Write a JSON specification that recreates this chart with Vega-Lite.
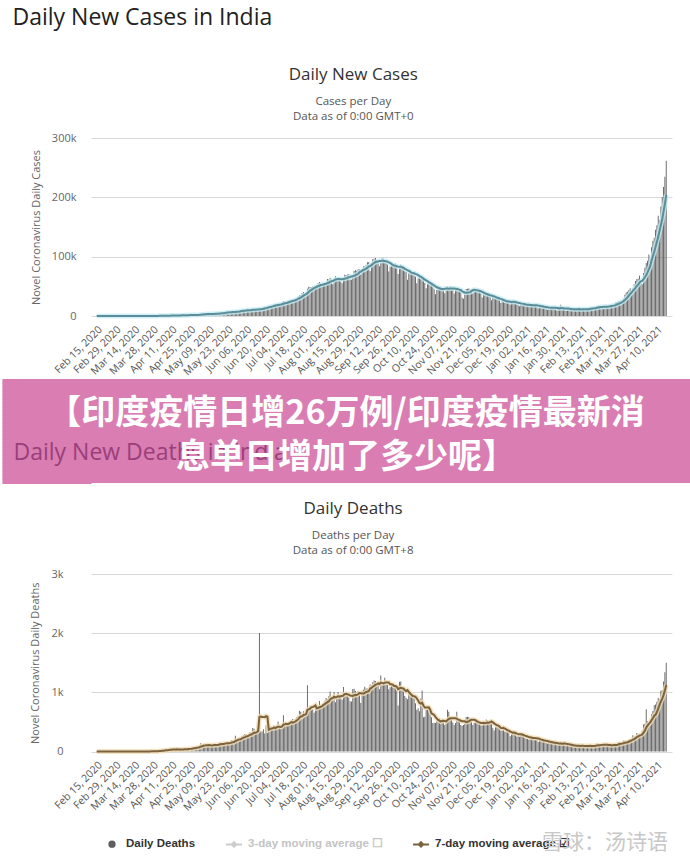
{
"$schema":"https://vega.github.io/schema/vega-lite/v6.json",
"background":"white",
"padding":{"top":6,"left":0,"right":0,"bottom":0},
"spacing":0,
"resolve":{"scale":{"color":"independent"},"legend":{"color":"independent"}},
"title":{"text":"Daily New Cases in India","anchor":"start","dx":12,"fontSize":23,"font":"Open Sans","fontWeight":"normal","color":"#222222","offset":36},
"config":{"view":{"stroke":null},"axis":{"labelFont":"Open Sans","titleFont":"Open Sans"}},
"datasets":{
"banner":[{"line":"q","t":"【印度疫情日增26万例/印度疫情最新消"},{"line":"M","t":"息单日增加了多少呢】"}],
"covid":[
{"d":"2020-02-15","c":0,"k":0},{"d":"2020-02-16","c":0,"k":0},{"d":"2020-02-17","c":0,"k":0},{"d":"2020-02-18","c":0,"k":0},{"d":"2020-02-19","c":0,"k":0},{"d":"2020-02-20","c":0,"k":0},{"d":"2020-02-21","c":0,"k":0},{"d":"2020-02-22","c":0,"k":0},{"d":"2020-02-23","c":0,"k":0},{"d":"2020-02-24","c":0,"k":0},{"d":"2020-02-25","c":0,"k":0},{"d":"2020-02-26","c":0,"k":0},{"d":"2020-02-27","c":0,"k":0},{"d":"2020-02-28","c":0,"k":0},{"d":"2020-02-29","c":0,"k":0},
{"d":"2020-03-01","c":0,"k":0},{"d":"2020-03-02","c":2,"k":0},{"d":"2020-03-03","c":1,"k":0},{"d":"2020-03-04","c":22,"k":0},{"d":"2020-03-05","c":2,"k":0},{"d":"2020-03-06","c":1,"k":0},{"d":"2020-03-07","c":3,"k":0},{"d":"2020-03-08","c":5,"k":0},{"d":"2020-03-09","c":9,"k":0},{"d":"2020-03-10","c":15,"k":0},{"d":"2020-03-11","c":8,"k":0},{"d":"2020-03-12","c":10,"k":1},{"d":"2020-03-13","c":10,"k":0},{"d":"2020-03-14","c":12,"k":1},{"d":"2020-03-15","c":22,"k":0},{"d":"2020-03-16","c":23,"k":0},{"d":"2020-03-17","c":13,"k":1},{"d":"2020-03-18","c":22,"k":0},{"d":"2020-03-19","c":24,"k":1},{"d":"2020-03-20","c":58,"k":1},{"d":"2020-03-21","c":83,"k":1},{"d":"2020-03-22","c":69,"k":3},{"d":"2020-03-23","c":103,"k":2},{"d":"2020-03-24","c":37,"k":1},{"d":"2020-03-25","c":121,"k":2},{"d":"2020-03-26","c":70,"k":3},{"d":"2020-03-27","c":159,"k":3},{"d":"2020-03-28","c":149,"k":5},{"d":"2020-03-29","c":106,"k":6},{"d":"2020-03-30","c":227,"k":4},{"d":"2020-03-31","c":146,"k":15},
{"d":"2020-04-01","c":437,"k":6},{"d":"2020-04-02","c":336,"k":18},{"d":"2020-04-03","c":573,"k":12},{"d":"2020-04-04","c":565,"k":20},{"d":"2020-04-05","c":472,"k":19},{"d":"2020-04-06","c":693,"k":30},{"d":"2020-04-07","c":354,"k":35},{"d":"2020-04-08","c":773,"k":20},{"d":"2020-04-09","c":540,"k":33},{"d":"2020-04-10","c":896,"k":40},{"d":"2020-04-11","c":952,"k":36},{"d":"2020-04-12","c":918,"k":31},{"d":"2020-04-13","c":796,"k":35},{"d":"2020-04-14","c":1211,"k":38},{"d":"2020-04-15","c":886,"k":39},{"d":"2020-04-16","c":1061,"k":28},{"d":"2020-04-17","c":922,"k":30},{"d":"2020-04-18","c":1371,"k":39},{"d":"2020-04-19","c":1580,"k":31},{"d":"2020-04-20","c":1239,"k":38},{"d":"2020-04-21","c":1537,"k":50},{"d":"2020-04-22","c":1292,"k":41},{"d":"2020-04-23","c":1667,"k":38},{"d":"2020-04-24","c":1408,"k":57},{"d":"2020-04-25","c":1835,"k":56},{"d":"2020-04-26","c":1607,"k":49},{"d":"2020-04-27","c":1561,"k":62},{"d":"2020-04-28","c":1873,"k":71},{"d":"2020-04-29","c":1738,"k":69},{"d":"2020-04-30","c":1801,"k":73},
{"d":"2020-05-01","c":2396,"k":77},{"d":"2020-05-02","c":2564,"k":92},{"d":"2020-05-03","c":2952,"k":140},{"d":"2020-05-04","c":3656,"k":103},{"d":"2020-05-05","c":2971,"k":128},{"d":"2020-05-06","c":3602,"k":89},{"d":"2020-05-07","c":3344,"k":103},{"d":"2020-05-08","c":3339,"k":96},{"d":"2020-05-09","c":3175,"k":115},{"d":"2020-05-10","c":4311,"k":111},{"d":"2020-05-11","c":3592,"k":87},{"d":"2020-05-12","c":3562,"k":120},{"d":"2020-05-13","c":3726,"k":136},{"d":"2020-05-14","c":3991,"k":100},{"d":"2020-05-15","c":3808,"k":103},{"d":"2020-05-16","c":4794,"k":120},{"d":"2020-05-17","c":5050,"k":157},{"d":"2020-05-18","c":4628,"k":134},{"d":"2020-05-19","c":6147,"k":132},{"d":"2020-05-20","c":5553,"k":140},{"d":"2020-05-21","c":6198,"k":142},{"d":"2020-05-22","c":6568,"k":137},{"d":"2020-05-23","c":6629,"k":147},{"d":"2020-05-24","c":7111,"k":147},{"d":"2020-05-25","c":6414,"k":146},{"d":"2020-05-26","c":6369,"k":194},{"d":"2020-05-27","c":6566,"k":170},{"d":"2020-05-28","c":7467,"k":175},{"d":"2020-05-29","c":7964,"k":268},{"d":"2020-05-30","c":8380,"k":193},{"d":"2020-05-31","c":8392,"k":230},
{"d":"2020-06-01","c":8171,"k":204},{"d":"2020-06-02","c":8909,"k":217},{"d":"2020-06-03","c":9304,"k":260},{"d":"2020-06-04","c":9851,"k":273},{"d":"2020-06-05","c":9887,"k":295},{"d":"2020-06-06","c":10438,"k":297},{"d":"2020-06-07","c":10864,"k":261},{"d":"2020-06-08","c":8442,"k":266},{"d":"2020-06-09","c":10218,"k":331},{"d":"2020-06-10","c":10956,"k":279},{"d":"2020-06-11","c":11929,"k":396},{"d":"2020-06-12","c":10974,"k":386},{"d":"2020-06-13","c":11458,"k":311},{"d":"2020-06-14","c":11502,"k":325},{"d":"2020-06-15","c":10667,"k":380},{"d":"2020-06-16","c":10974,"k":2003},{"d":"2020-06-17","c":12881,"k":341},{"d":"2020-06-18","c":13586,"k":336},{"d":"2020-06-19","c":14516,"k":375},{"d":"2020-06-20","c":15413,"k":306},{"d":"2020-06-21","c":14821,"k":445},{"d":"2020-06-22","c":14933,"k":312},{"d":"2020-06-23","c":15968,"k":465},{"d":"2020-06-24","c":16922,"k":418},{"d":"2020-06-25","c":17296,"k":407},{"d":"2020-06-26","c":18552,"k":384},{"d":"2020-06-27","c":19906,"k":410},{"d":"2020-06-28","c":19459,"k":380},{"d":"2020-06-29","c":18522,"k":418},{"d":"2020-06-30","c":18653,"k":507},
{"d":"2020-07-01","c":19148,"k":434},{"d":"2020-07-02","c":20903,"k":379},{"d":"2020-07-03","c":22771,"k":442},{"d":"2020-07-04","c":24850,"k":613},{"d":"2020-07-05","c":24248,"k":425},{"d":"2020-07-06","c":22252,"k":467},{"d":"2020-07-07","c":22752,"k":482},{"d":"2020-07-08","c":24879,"k":475},{"d":"2020-07-09","c":26506,"k":487},{"d":"2020-07-10","c":27114,"k":519},{"d":"2020-07-11","c":28637,"k":551},{"d":"2020-07-12","c":28701,"k":500},{"d":"2020-07-13","c":28498,"k":553},{"d":"2020-07-14","c":29429,"k":582},{"d":"2020-07-15","c":32695,"k":606},{"d":"2020-07-16","c":34956,"k":687},{"d":"2020-07-17","c":34884,"k":671},{"d":"2020-07-18","c":38902,"k":543},{"d":"2020-07-19","c":40425,"k":681},{"d":"2020-07-20","c":37148,"k":587},{"d":"2020-07-21","c":37724,"k":648},{"d":"2020-07-22","c":45720,"k":1120},{"d":"2020-07-23","c":49310,"k":740},{"d":"2020-07-24","c":48916,"k":757},{"d":"2020-07-25","c":48661,"k":705},{"d":"2020-07-26","c":49931,"k":708},{"d":"2020-07-27","c":47703,"k":654},{"d":"2020-07-28","c":48513,"k":768},{"d":"2020-07-29","c":52123,"k":779},{"d":"2020-07-30","c":55079,"k":775},{"d":"2020-07-31","c":57118,"k":853},
{"d":"2020-08-01","c":54735,"k":758},{"d":"2020-08-02","c":52972,"k":771},{"d":"2020-08-03","c":52050,"k":806},{"d":"2020-08-04","c":52509,"k":857},{"d":"2020-08-05","c":56282,"k":904},{"d":"2020-08-06","c":62538,"k":886},{"d":"2020-08-07","c":61537,"k":933},{"d":"2020-08-08","c":64399,"k":1013},{"d":"2020-08-09","c":62064,"k":871},{"d":"2020-08-10","c":53601,"k":864},{"d":"2020-08-11","c":60963,"k":1007},{"d":"2020-08-12","c":66999,"k":834},{"d":"2020-08-13","c":64553,"k":942},{"d":"2020-08-14","c":65002,"k":1007},{"d":"2020-08-15","c":63490,"k":956},{"d":"2020-08-16","c":57981,"k":941},{"d":"2020-08-17","c":55079,"k":876},{"d":"2020-08-18","c":64531,"k":1092},{"d":"2020-08-19","c":69652,"k":977},{"d":"2020-08-20","c":68898,"k":983},{"d":"2020-08-21","c":69878,"k":945},{"d":"2020-08-22","c":70488,"k":912},{"d":"2020-08-23","c":61408,"k":848},{"d":"2020-08-24","c":60975,"k":847},{"d":"2020-08-25","c":67151,"k":1057},{"d":"2020-08-26","c":75760,"k":1059},{"d":"2020-08-27","c":77266,"k":1021},{"d":"2020-08-28","c":76472,"k":948},{"d":"2020-08-29","c":78761,"k":1022},{"d":"2020-08-30","c":78512,"k":972},{"d":"2020-08-31","c":69921,"k":819},
{"d":"2020-09-01","c":78357,"k":1026},{"d":"2020-09-02","c":83883,"k":1043},{"d":"2020-09-03","c":83341,"k":1095},{"d":"2020-09-04","c":86432,"k":1066},{"d":"2020-09-05","c":90632,"k":1065},{"d":"2020-09-06","c":90802,"k":1017},{"d":"2020-09-07","c":75809,"k":1133},{"d":"2020-09-08","c":89706,"k":1115},{"d":"2020-09-09","c":95735,"k":1172},{"d":"2020-09-10","c":96551,"k":1201},{"d":"2020-09-11","c":97570,"k":1192},{"d":"2020-09-12","c":94372,"k":1114},{"d":"2020-09-13","c":92071,"k":1136},{"d":"2020-09-14","c":83809,"k":1054},{"d":"2020-09-15","c":90123,"k":1283},{"d":"2020-09-16","c":97894,"k":1132},{"d":"2020-09-17","c":96424,"k":1174},{"d":"2020-09-18","c":93337,"k":1247},{"d":"2020-09-19","c":92605,"k":1133},{"d":"2020-09-20","c":86961,"k":1130},{"d":"2020-09-21","c":75083,"k":1053},{"d":"2020-09-22","c":83347,"k":1085},{"d":"2020-09-23","c":86508,"k":1129},{"d":"2020-09-24","c":86052,"k":1141},{"d":"2020-09-25","c":85362,"k":1089},{"d":"2020-09-26","c":88600,"k":1124},{"d":"2020-09-27","c":82170,"k":1039},{"d":"2020-09-28","c":70589,"k":776},{"d":"2020-09-29","c":80472,"k":1179},{"d":"2020-09-30","c":86821,"k":1181},
{"d":"2020-10-01","c":81484,"k":1095},{"d":"2020-10-02","c":79476,"k":1069},{"d":"2020-10-03","c":75829,"k":940},{"d":"2020-10-04","c":74442,"k":903},{"d":"2020-10-05","c":61267,"k":884},{"d":"2020-10-06","c":72049,"k":986},{"d":"2020-10-07","c":78524,"k":971},{"d":"2020-10-08","c":70496,"k":964},{"d":"2020-10-09","c":73272,"k":926},{"d":"2020-10-10","c":74383,"k":918},{"d":"2020-10-11","c":66732,"k":816},{"d":"2020-10-12","c":55342,"k":706},{"d":"2020-10-13","c":63509,"k":730},{"d":"2020-10-14","c":67708,"k":680},{"d":"2020-10-15","c":63371,"k":895},{"d":"2020-10-16","c":62212,"k":1033},{"d":"2020-10-17","c":61871,"k":579},{"d":"2020-10-18","c":55722,"k":587},{"d":"2020-10-19","c":46790,"k":702},{"d":"2020-10-20","c":54044,"k":717},{"d":"2020-10-21","c":55839,"k":706},{"d":"2020-10-22","c":54366,"k":650},{"d":"2020-10-23","c":53370,"k":578},{"d":"2020-10-24","c":50129,"k":480},{"d":"2020-10-25","c":45148,"k":488},{"d":"2020-10-26","c":36470,"k":480},{"d":"2020-10-27","c":43893,"k":517},{"d":"2020-10-28","c":49881,"k":551},{"d":"2020-10-29","c":48648,"k":563},{"d":"2020-10-30","c":48268,"k":470},{"d":"2020-10-31","c":46963,"k":551},
{"d":"2020-11-01","c":45231,"k":496},{"d":"2020-11-02","c":38310,"k":448},{"d":"2020-11-03","c":46253,"k":490},{"d":"2020-11-04","c":50210,"k":704},{"d":"2020-11-05","c":47638,"k":670},{"d":"2020-11-06","c":50357,"k":577},{"d":"2020-11-07","c":45674,"k":559},{"d":"2020-11-08","c":45903,"k":490},{"d":"2020-11-09","c":38073,"k":447},{"d":"2020-11-10","c":44281,"k":480},{"d":"2020-11-11","c":47905,"k":673},{"d":"2020-11-12","c":44879,"k":547},{"d":"2020-11-13","c":44878,"k":547},{"d":"2020-11-14","c":41100,"k":447},{"d":"2020-11-15","c":30548,"k":435},{"d":"2020-11-16","c":29164,"k":447},{"d":"2020-11-17","c":38617,"k":474},{"d":"2020-11-18","c":45576,"k":585},{"d":"2020-11-19","c":45882,"k":587},{"d":"2020-11-20","c":46232,"k":584},{"d":"2020-11-21","c":45209,"k":562},{"d":"2020-11-22","c":44059,"k":511},{"d":"2020-11-23","c":37975,"k":448},{"d":"2020-11-24","c":44376,"k":482},{"d":"2020-11-25","c":44489,"k":524},{"d":"2020-11-26","c":43082,"k":492},{"d":"2020-11-27","c":41322,"k":496},{"d":"2020-11-28","c":41810,"k":485},{"d":"2020-11-29","c":38772,"k":443},{"d":"2020-11-30","c":31118,"k":443},
{"d":"2020-12-01","c":36604,"k":502},{"d":"2020-12-02","c":35551,"k":480},{"d":"2020-12-03","c":36595,"k":540},{"d":"2020-12-04","c":36652,"k":524},{"d":"2020-12-05","c":36011,"k":482},{"d":"2020-12-06","c":32981,"k":513},{"d":"2020-12-07","c":26567,"k":512},{"d":"2020-12-08","c":32080,"k":402},{"d":"2020-12-09","c":31521,"k":354},{"d":"2020-12-10","c":29398,"k":411},{"d":"2020-12-11","c":30006,"k":442},{"d":"2020-12-12","c":30254,"k":442},{"d":"2020-12-13","c":27071,"k":391},{"d":"2020-12-14","c":22065,"k":354},{"d":"2020-12-15","c":26382,"k":355},{"d":"2020-12-16","c":24010,"k":402},{"d":"2020-12-17","c":22890,"k":333},{"d":"2020-12-18","c":25153,"k":347},{"d":"2020-12-19","c":26624,"k":341},{"d":"2020-12-20","c":24337,"k":333},{"d":"2020-12-21","c":19556,"k":256},{"d":"2020-12-22","c":23950,"k":286},{"d":"2020-12-23","c":24712,"k":334},{"d":"2020-12-24","c":23067,"k":336},{"d":"2020-12-25","c":23068,"k":312},{"d":"2020-12-26","c":22273,"k":253},{"d":"2020-12-27","c":18732,"k":278},{"d":"2020-12-28","c":16432,"k":251},{"d":"2020-12-29","c":20550,"k":286},{"d":"2020-12-30","c":21822,"k":299},{"d":"2020-12-31","c":20036,"k":280},
{"d":"2021-01-01","c":19078,"k":228},{"d":"2021-01-02","c":18177,"k":217},{"d":"2021-01-03","c":16504,"k":212},{"d":"2021-01-04","c":16375,"k":201},{"d":"2021-01-05","c":18088,"k":246},{"d":"2021-01-06","c":20346,"k":264},{"d":"2021-01-07","c":18139,"k":235},{"d":"2021-01-08","c":18222,"k":228},{"d":"2021-01-09","c":18645,"k":202},{"d":"2021-01-10","c":16311,"k":201},{"d":"2021-01-11","c":12584,"k":161},{"d":"2021-01-12","c":15968,"k":201},{"d":"2021-01-13","c":16946,"k":202},{"d":"2021-01-14","c":15590,"k":191},{"d":"2021-01-15","c":15158,"k":175},{"d":"2021-01-16","c":15144,"k":181},{"d":"2021-01-17","c":13788,"k":145},{"d":"2021-01-18","c":10064,"k":137},{"d":"2021-01-19","c":13823,"k":162},{"d":"2021-01-20","c":15223,"k":151},{"d":"2021-01-21","c":14545,"k":163},{"d":"2021-01-22","c":14256,"k":152},{"d":"2021-01-23","c":14849,"k":130},{"d":"2021-01-24","c":13203,"k":131},{"d":"2021-01-25","c":9102,"k":117},{"d":"2021-01-26","c":12689,"k":123},{"d":"2021-01-27","c":11666,"k":131},{"d":"2021-01-28","c":18855,"k":163},{"d":"2021-01-29","c":13083,"k":127},{"d":"2021-01-30","c":13052,"k":146},{"d":"2021-01-31","c":11427,"k":127},
{"d":"2021-02-01","c":8635,"k":95},{"d":"2021-02-02","c":11039,"k":109},{"d":"2021-02-03","c":12899,"k":107},{"d":"2021-02-04","c":11713,"k":108},{"d":"2021-02-05","c":12408,"k":120},{"d":"2021-02-06","c":11713,"k":96},{"d":"2021-02-07","c":11831,"k":84},{"d":"2021-02-08","c":9110,"k":79},{"d":"2021-02-09","c":11067,"k":94},{"d":"2021-02-10","c":12923,"k":108},{"d":"2021-02-11","c":12143,"k":94},{"d":"2021-02-12","c":9309,"k":95},{"d":"2021-02-13","c":12194,"k":119},{"d":"2021-02-14","c":11649,"k":78},{"d":"2021-02-15","c":9121,"k":77},{"d":"2021-02-16","c":11610,"k":94},{"d":"2021-02-17","c":12881,"k":101},{"d":"2021-02-18","c":13193,"k":97},{"d":"2021-02-19","c":13993,"k":101},{"d":"2021-02-20","c":13993,"k":101},{"d":"2021-02-21","c":14264,"k":86},{"d":"2021-02-22","c":10584,"k":78},{"d":"2021-02-23","c":13742,"k":105},{"d":"2021-02-24","c":16738,"k":139},{"d":"2021-02-25","c":16577,"k":118},{"d":"2021-02-26","c":16577,"k":118},{"d":"2021-02-27","c":16488,"k":113},{"d":"2021-02-28","c":15510,"k":113},
{"d":"2021-03-01","c":12286,"k":97},{"d":"2021-03-02","c":14989,"k":98},{"d":"2021-03-03","c":17407,"k":134},{"d":"2021-03-04","c":16838,"k":113},{"d":"2021-03-05","c":18327,"k":108},{"d":"2021-03-06","c":18711,"k":100},{"d":"2021-03-07","c":18711,"k":97},{"d":"2021-03-08","c":15388,"k":96},{"d":"2021-03-09","c":17921,"k":133},{"d":"2021-03-10","c":22854,"k":126},{"d":"2021-03-11","c":23285,"k":117},{"d":"2021-03-12","c":24882,"k":158},{"d":"2021-03-13","c":25320,"k":161},{"d":"2021-03-14","c":26291,"k":112},{"d":"2021-03-15","c":24492,"k":131},{"d":"2021-03-16","c":28903,"k":188},{"d":"2021-03-17","c":35871,"k":172},{"d":"2021-03-18","c":39726,"k":154},{"d":"2021-03-19","c":40953,"k":188},{"d":"2021-03-20","c":43846,"k":197},{"d":"2021-03-21","c":46951,"k":212},{"d":"2021-03-22","c":40715,"k":199},{"d":"2021-03-23","c":47262,"k":275},{"d":"2021-03-24","c":53476,"k":248},{"d":"2021-03-25","c":59118,"k":257},{"d":"2021-03-26","c":62258,"k":312},{"d":"2021-03-27","c":62714,"k":291},{"d":"2021-03-28","c":68020,"k":291},{"d":"2021-03-29","c":56211,"k":271},{"d":"2021-03-30","c":53480,"k":354},{"d":"2021-03-31","c":72330,"k":458},
{"d":"2021-04-01","c":81466,"k":469},{"d":"2021-04-02","c":89129,"k":714},{"d":"2021-04-03","c":93249,"k":513},{"d":"2021-04-04","c":103558,"k":478},{"d":"2021-04-05","c":96982,"k":446},{"d":"2021-04-06","c":115736,"k":631},{"d":"2021-04-07","c":126789,"k":684},{"d":"2021-04-08","c":131968,"k":780},{"d":"2021-04-09","c":145384,"k":794},{"d":"2021-04-10","c":152879,"k":839},{"d":"2021-04-11","c":168912,"k":904},{"d":"2021-04-12","c":161736,"k":880},{"d":"2021-04-13","c":184372,"k":1027},{"d":"2021-04-14","c":200739,"k":1038},{"d":"2021-04-15","c":217353,"k":1185},{"d":"2021-04-16","c":234692,"k":1341},{"d":"2021-04-17","c":261500,"k":1501}
]},
"vconcat":[
{
"width":581,"height":178,
"data":{"name":"covid"},
"transform":[{"window":[{"op":"mean","field":"c","as":"c7"}],"frame":[-6,0],"sort":[{"field":"d"}]}],
"title":{"text":"Daily New Cases","subtitle":["Cases per Day","Data as of 0:00 GMT+0"],"anchor":"middle","frame":"bounds","font":"Open Sans","fontSize":17,"fontWeight":"normal","color":"#333333","subtitleFont":"Open Sans","subtitleFontSize":11.5,"subtitleColor":"#555555","subtitlePadding":12,"subtitleLineHeight":15,"offset":9},
"encoding":{"x":{"field":"d","type":"temporal","title":null,
 "scale":{"type":"utc","domain":[{"year":2020,"month":2,"date":14,"hours":12,"utc":true},{"year":2021,"month":4,"date":17,"hours":14,"utc":true}]},
 "axis":{"values":[{"year":2020,"month":2,"date":15,"utc":true},{"year":2020,"month":2,"date":29,"utc":true},{"year":2020,"month":3,"date":14,"utc":true},{"year":2020,"month":3,"date":28,"utc":true},{"year":2020,"month":4,"date":11,"utc":true},{"year":2020,"month":4,"date":25,"utc":true},{"year":2020,"month":5,"date":9,"utc":true},{"year":2020,"month":5,"date":23,"utc":true},{"year":2020,"month":6,"date":6,"utc":true},{"year":2020,"month":6,"date":20,"utc":true},{"year":2020,"month":7,"date":4,"utc":true},{"year":2020,"month":7,"date":18,"utc":true},{"year":2020,"month":8,"date":1,"utc":true},{"year":2020,"month":8,"date":15,"utc":true},{"year":2020,"month":8,"date":29,"utc":true},{"year":2020,"month":9,"date":12,"utc":true},{"year":2020,"month":9,"date":26,"utc":true},{"year":2020,"month":10,"date":10,"utc":true},{"year":2020,"month":10,"date":24,"utc":true},{"year":2020,"month":11,"date":7,"utc":true},{"year":2020,"month":11,"date":21,"utc":true},{"year":2020,"month":12,"date":5,"utc":true},{"year":2020,"month":12,"date":19,"utc":true},{"year":2021,"month":1,"date":2,"utc":true},{"year":2021,"month":1,"date":16,"utc":true},{"year":2021,"month":1,"date":30,"utc":true},{"year":2021,"month":2,"date":13,"utc":true},{"year":2021,"month":2,"date":27,"utc":true},{"year":2021,"month":3,"date":13,"utc":true},{"year":2021,"month":3,"date":27,"utc":true},{"year":2021,"month":4,"date":10,"utc":true}],
  "labelExpr":"utcFormat(datum.value, '%b %d, %Y')","labelAngle":-45,"labelFontSize":10.5,"labelColor":"#555555","labelPadding":8,"ticks":false,"domain":false,"grid":false,"labelOverlap":false,"labelFlush":false,"labelBound":false}}},
"layer":[
 {"mark":{"type":"bar","size":0.9,"color":"#5e5e5e"},
  "encoding":{"y":{"field":"c","type":"quantitative","title":"Novel Coronavirus Daily Cases","scale":{"domain":[0,300000]},
   "axis":{"values":[0,100000,200000,300000],"labelExpr":"datum.value == 0 ? '0' : format(datum.value, '~s')","labelFontSize":11,"labelColor":"#666666","labelPadding":15,"ticks":false,"domain":false,"gridColor":"#d9d9d9","titleFontSize":11,"titleFontWeight":"normal","titleColor":"#666666","titlePadding":10}}}},
 {"mark":{"type":"line","color":"#c4ecf4","strokeWidth":5,"opacity":0.8},"encoding":{"y":{"field":"c7","type":"quantitative","title":"Novel Coronavirus Daily Cases","scale":{"domain":[0,300000]}}}},
 {"mark":{"type":"line","color":"#5b8c98","strokeWidth":2},"encoding":{"y":{"field":"c7","type":"quantitative","title":"Novel Coronavirus Daily Cases","scale":{"domain":[0,300000]}}}}
]
},
{
"width":600,"height":104,
"view":{"fill":"#d97db2","stroke":null},
"data":{"name":"banner"},
"mark":{"type":"text","font":"Noto Sans CJK SC","fontSize":34,"fontWeight":"bold","color":"white","baseline":"middle","dx":-45,"dy":2},
"encoding":{"y":{"field":"line","type":"ordinal",
  "scale":{"type":"point","padding":0.5,"domain":["a","b","c","d","e","f","g","h","i","j","k","l","m","n","o","p","q","r","s","t","u","v","w","x","y","z","A","B","C","D","E","F","G","H","I","J","K","L","M","N","O","P","Q","R","S","T","U","V","W","X","Y","Z"]},
  "axis":{"title":null,"labelExpr":"datum.value == 'K' ? 'Daily New Deaths in India' : ''","labelAlign":"left","labelBaseline":"middle","labelPadding":-11,"labelFont":"Open Sans","labelFontSize":{"condition":{"test":"datum.value == 'K'","value":23},"value":0.1},"labelColor":"#9a3f7b","labelLimit":0,"labelOverlap":false,"labelBound":false,"ticks":true,"tickSize":89,"tickWidth":3,"tickColor":"#d97db2","tickCap":"butt","domain":false,"grid":false}},
  "text":{"field":"t"}}
},
{
"width":581,"height":177.5,
"data":{"name":"covid"},
"transform":[{"window":[{"op":"mean","field":"k","as":"k7"}],"frame":[-6,0],"sort":[{"field":"d"}]}],
"title":{"text":["","Daily Deaths"],"lineHeight":15,"subtitle":["Deaths per Day","Data as of 0:00 GMT+8"],"anchor":"middle","frame":"bounds","font":"Open Sans","fontSize":17,"fontWeight":"normal","color":"#333333","subtitleFont":"Open Sans","subtitleFontSize":11.5,"subtitleColor":"#555555","subtitlePadding":12,"subtitleLineHeight":15,"offset":11},
"encoding":{"x":{"field":"d","type":"temporal","title":null,
 "scale":{"type":"utc","domain":[{"year":2020,"month":2,"date":14,"hours":12,"utc":true},{"year":2021,"month":4,"date":17,"hours":14,"utc":true}]},
 "axis":{"values":[{"year":2020,"month":2,"date":15,"utc":true},{"year":2020,"month":2,"date":29,"utc":true},{"year":2020,"month":3,"date":14,"utc":true},{"year":2020,"month":3,"date":28,"utc":true},{"year":2020,"month":4,"date":11,"utc":true},{"year":2020,"month":4,"date":25,"utc":true},{"year":2020,"month":5,"date":9,"utc":true},{"year":2020,"month":5,"date":23,"utc":true},{"year":2020,"month":6,"date":6,"utc":true},{"year":2020,"month":6,"date":20,"utc":true},{"year":2020,"month":7,"date":4,"utc":true},{"year":2020,"month":7,"date":18,"utc":true},{"year":2020,"month":8,"date":1,"utc":true},{"year":2020,"month":8,"date":15,"utc":true},{"year":2020,"month":8,"date":29,"utc":true},{"year":2020,"month":9,"date":12,"utc":true},{"year":2020,"month":9,"date":26,"utc":true},{"year":2020,"month":10,"date":10,"utc":true},{"year":2020,"month":10,"date":24,"utc":true},{"year":2020,"month":11,"date":7,"utc":true},{"year":2020,"month":11,"date":21,"utc":true},{"year":2020,"month":12,"date":5,"utc":true},{"year":2020,"month":12,"date":19,"utc":true},{"year":2021,"month":1,"date":2,"utc":true},{"year":2021,"month":1,"date":16,"utc":true},{"year":2021,"month":1,"date":30,"utc":true},{"year":2021,"month":2,"date":13,"utc":true},{"year":2021,"month":2,"date":27,"utc":true},{"year":2021,"month":3,"date":13,"utc":true},{"year":2021,"month":3,"date":27,"utc":true},{"year":2021,"month":4,"date":10,"utc":true}],
  "labelExpr":"utcFormat(datum.value, '%b %d, %Y')","labelAngle":-45,"labelFontSize":10.5,"labelColor":"#555555","labelPadding":8,"ticks":false,"domain":false,"grid":false,"labelOverlap":false,"labelFlush":false,"labelBound":false}}},
"layer":[
 {"mark":{"type":"bar","size":0.9},
  "encoding":{"y":{"field":"k","type":"quantitative","title":"Novel Coronavirus Daily Deaths","scale":{"domain":[0,3000]},
   "axis":{"values":[0,1000,2000,3000],"labelExpr":"datum.value == 0 ? '0' : format(datum.value, '~s')","labelFontSize":11,"labelColor":"#666666","labelPadding":28,"ticks":false,"domain":false,"gridColor":"#d9d9d9","titleFontSize":11,"titleFontWeight":"normal","titleColor":"#666666","titlePadding":10}},
   "color":{"datum":"Daily Deaths","type":"nominal","scale":{"domain":["Daily Deaths","3-day moving average","7-day moving average"],"range":["#5e5e5e","#cccccc","#7b633f"]},
    "legend":{"orient":"none","legendX":12,"legendY":261,"direction":"horizontal","title":"雪球：汤诗语","titleOrient":"right","titleFont":"Noto Sans CJK SC","titleFontSize":21,"titleFontWeight":"normal","titleColor":"#c8c8c8","titlePadding":-28,
     "labelFont":"Liberation Sans","labelFontSize":11.5,"labelFontWeight":"bold","labelColor":"#333333","labelOffset":5,"columnPadding":26,"symbolSize":256,
     "labelExpr":"datum.value == '3-day moving average' ? datum.label + ' ☐' : datum.value == '7-day moving average' ? datum.label + ' ☑' : datum.label",
     "encode":{"symbols":{"update":{
       "shape":{"signal":"datum.value == 'Daily Deaths' ? 'M-0.33,0A0.33,0.33 0 1,0 0.33,0A0.33,0.33 0 1,0 -0.33,0Z' : 'M-1,0L1,0M-0.28,0L0,-0.28L0.28,0L0,0.28Z'"},
       "fill":{"signal":"datum.value == 'Daily Deaths' ? '#7a7a7a' : datum.value == '3-day moving average' ? '#d0d0d0' : '#7b633f'"},
       "stroke":{"signal":"datum.value == 'Daily Deaths' ? 'transparent' : datum.value == '3-day moving average' ? '#d0d0d0' : '#7b633f'"},
       "strokeWidth":{"value":2},"opacity":{"value":1}}},
      "labels":{"update":{"fill":{"signal":"datum.value == '3-day moving average' ? '#c4c4c4' : '#333333'"}}}}}}}},
 {"mark":{"type":"line","color":"#f3ddb5","strokeWidth":5,"opacity":0.8},"encoding":{"y":{"field":"k7","type":"quantitative","title":"Novel Coronavirus Daily Deaths","scale":{"domain":[0,3000]}}}},
 {"mark":{"type":"line","strokeWidth":2},"encoding":{"y":{"field":"k7","type":"quantitative","title":"Novel Coronavirus Daily Deaths","scale":{"domain":[0,3000]}},"color":{"datum":"7-day moving average","type":"nominal"}}}
]
}
]
}
